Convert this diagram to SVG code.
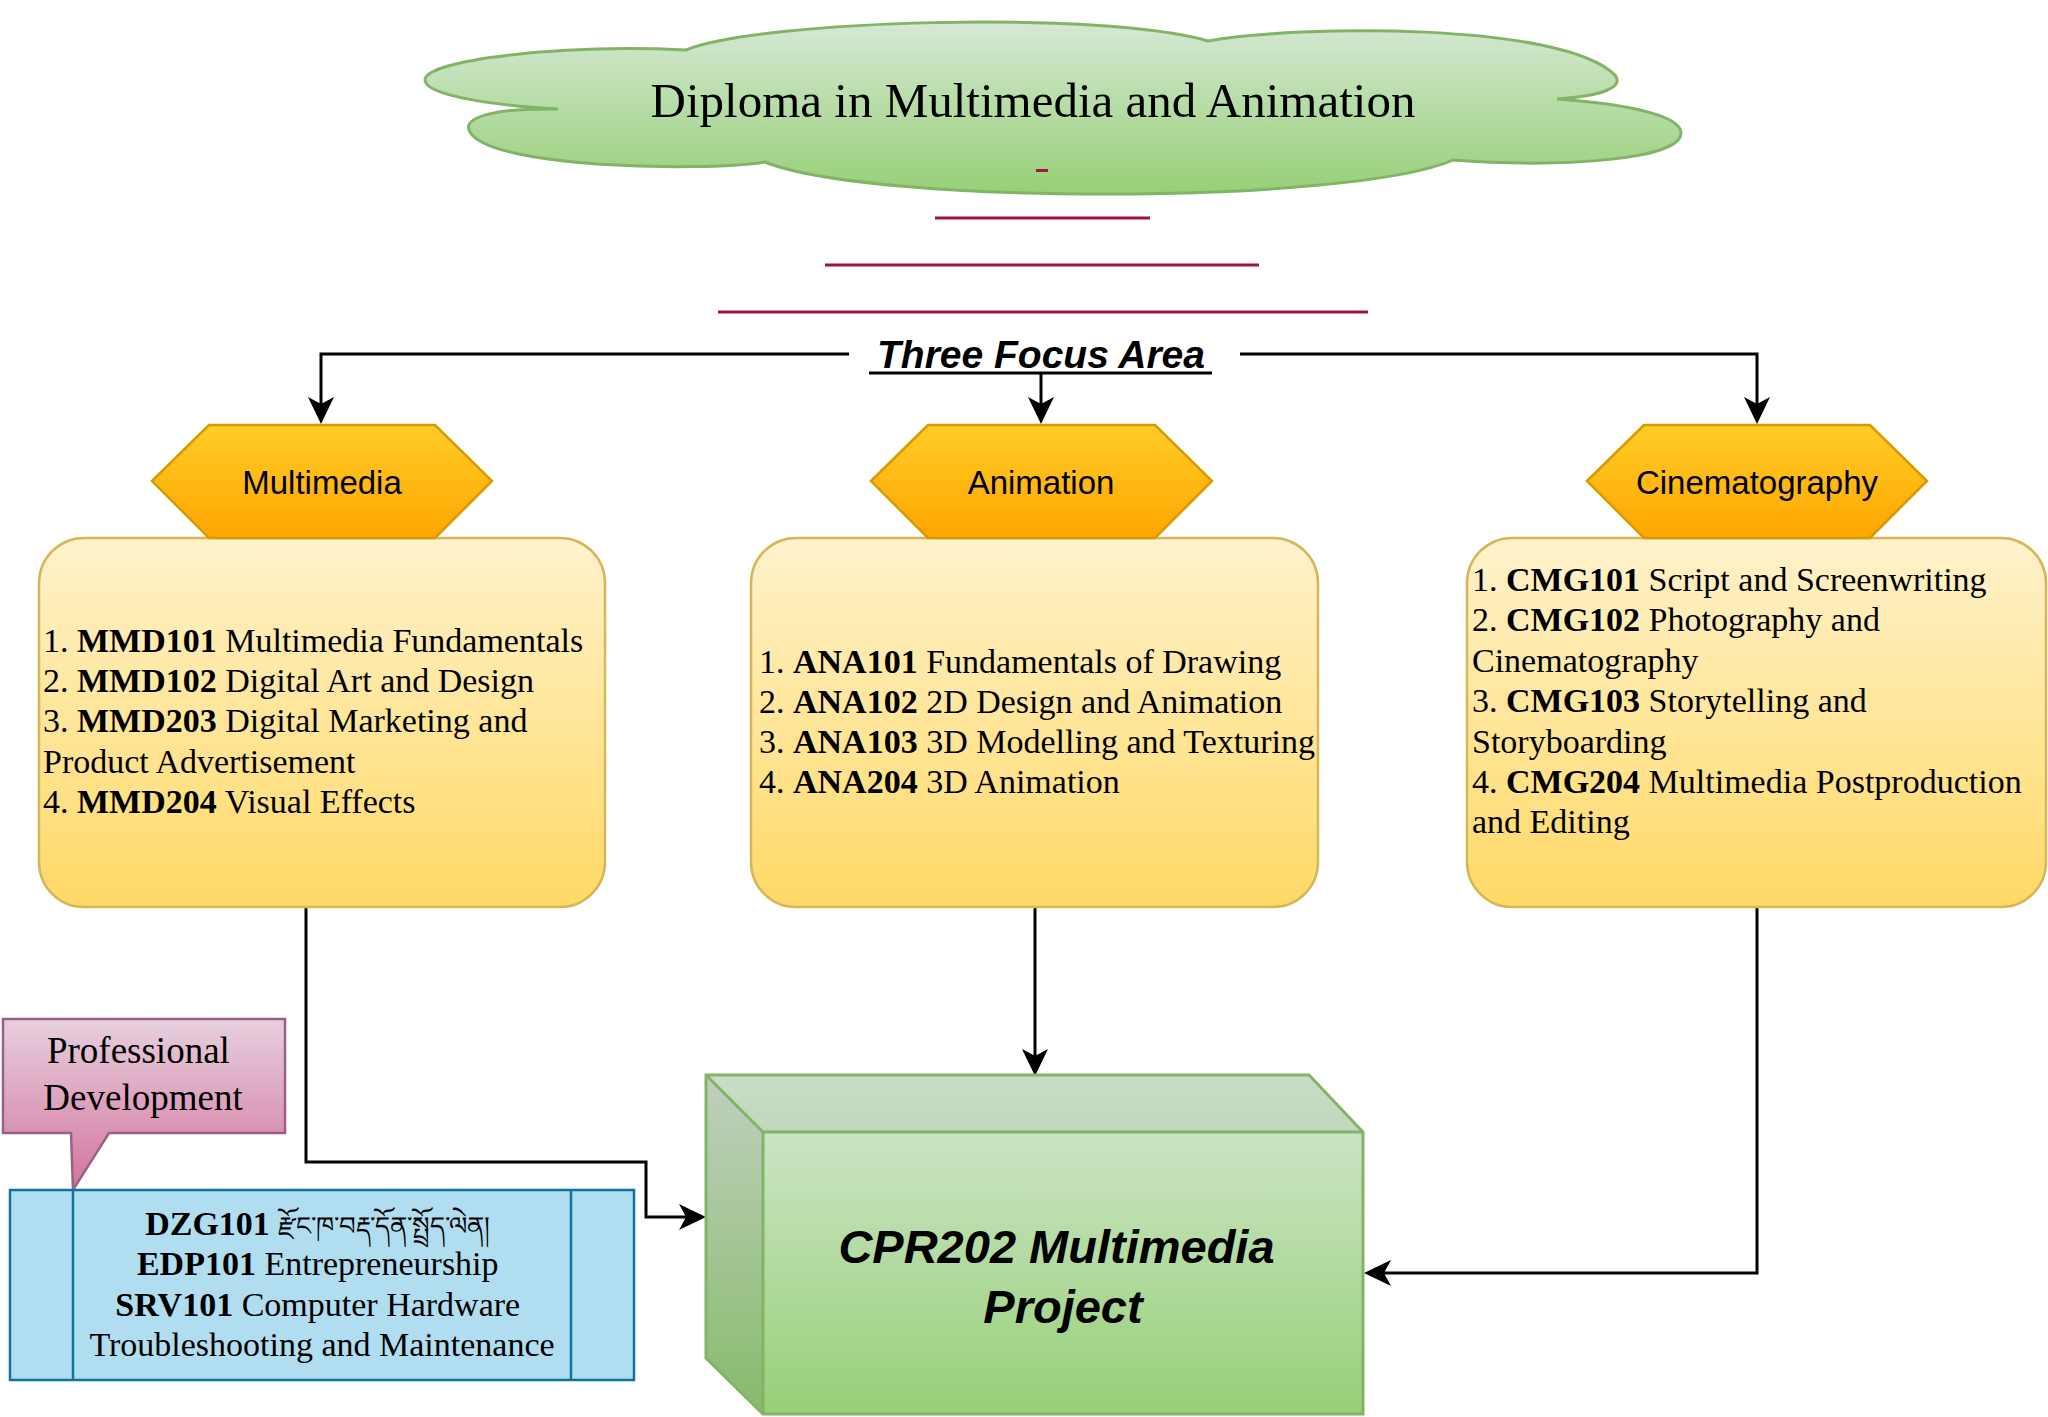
<svg xmlns="http://www.w3.org/2000/svg" width="2048" height="1417" viewBox="0 0 2048 1417">
<style>
.serif{font-family:"Liberation Serif","Times New Roman",serif;fill:#000}
.sans{font-family:"Liberation Sans",Arial,sans-serif;fill:#000}
.body{font-size:34px}
.b{font-weight:bold}
.edge{fill:none;stroke:#000;stroke-width:3}
.head{fill:#000;stroke:none}
.ybox{fill:url(#yellowGrad);stroke:#d6b656;stroke-width:2.5}
.hex{fill:url(#hexGrad);stroke:#d79b00;stroke-width:2.5}
.hexlabel{font-size:33px;text-anchor:middle}
.deco{stroke:#a0114a;stroke-width:3.2}
</style>
<defs>
<linearGradient id="cloudGrad" x1="0" y1="0" x2="0" y2="1"><stop offset="0" stop-color="#d5e8d4"/><stop offset="1" stop-color="#97d077"/></linearGradient>
<linearGradient id="yellowGrad" x1="0" y1="0" x2="0" y2="1"><stop offset="0" stop-color="#fff2cc"/><stop offset="1" stop-color="#ffd966"/></linearGradient>
<linearGradient id="hexGrad" x1="0" y1="0" x2="0" y2="1"><stop offset="0" stop-color="#ffcd28"/><stop offset="1" stop-color="#ffa500"/></linearGradient>
<linearGradient id="pinkGrad" x1="0" y1="0" x2="0" y2="1"><stop offset="0" stop-color="#e6d0de"/><stop offset="1" stop-color="#d5739d"/></linearGradient>
<linearGradient id="cubeGrad" gradientUnits="userSpaceOnUse" x1="0" y1="1075" x2="0" y2="1415"><stop offset="0" stop-color="#d5e8d4"/><stop offset="1" stop-color="#97d077"/></linearGradient>
</defs>
<rect width="2048" height="1417" fill="#fff"/>

<g id="node-title">
<path d="M558,109 C500,106 425,96 425,80 C425,60 560,44 686,50 C760,20 1100,10 1208,41 C1300,25 1560,22 1615,75 C1625,88 1600,96 1557,99 C1640,105 1681,118 1681,133 C1681,160 1560,168 1453,160 C1350,205 870,205 765,162 C700,172 490,168 470,132 C460,116 500,108 558,109 Z" fill="url(#cloudGrad)" stroke="#82b366" stroke-width="3"/>
<text class="serif" x="1033" y="117" font-size="49" text-anchor="middle">Diploma in Multimedia and Animation</text>
<rect x="1036" y="169" width="12" height="3" fill="#b0103f"/>
</g>

<g id="decor-lines">
<line class="deco" x1="935" y1="218" x2="1150" y2="218"/>
<line class="deco" x1="825" y1="265" x2="1259" y2="265"/>
<line class="deco" x1="718" y1="312" x2="1368" y2="312"/>
</g>

<g id="node-focus">
<text class="sans" x="1041" y="368" font-size="39" font-weight="bold" font-style="italic" text-anchor="middle">Three Focus Area</text>
<line x1="869" y1="373" x2="1212" y2="373" stroke="#000" stroke-width="3"/>
</g>

<g id="connectors">
<path class="edge" d="M849,354 H321 V406"/>
<polygon class="head" points="321,424 308,397 321,404 334,397"/>
<path class="edge" d="M1240,354 H1757 V406"/>
<polygon class="head" points="1757,424 1744,397 1757,404 1770,397"/>
<path class="edge" d="M1041,374 V406"/>
<polygon class="head" points="1041,424 1028,397 1041,404 1054,397"/>
<path class="edge" d="M306,907 V1162 H646 V1217 H688"/>
<polygon class="head" points="706,1217 679,1204 686,1217 679,1230"/>
<path class="edge" d="M1035,907 V1058"/>
<polygon class="head" points="1035,1076 1022,1049 1035,1056 1048,1049"/>
<path class="edge" d="M1757,907 V1273 H1382"/>
<polygon class="head" points="1364,1273 1391,1260 1384,1273 1391,1286"/>
</g>

<g id="node-multimedia-list">
<rect class="ybox" x="39" y="538" width="566" height="369" rx="45" ry="45"/>
<text class="serif body">
<tspan x="43" y="652">1. <tspan class="b">MMD101</tspan> Multimedia Fundamentals</tspan>
<tspan x="43" y="692">2. <tspan class="b">MMD102</tspan> Digital Art and Design</tspan>
<tspan x="43" y="732">3. <tspan class="b">MMD203</tspan> Digital Marketing and</tspan>
<tspan x="43" y="773">Product Advertisement</tspan>
<tspan x="43" y="813">4. <tspan class="b">MMD204</tspan> Visual Effects</tspan>
</text>
</g>

<g id="node-animation-list">
<rect class="ybox" x="751" y="538" width="567" height="369" rx="45" ry="45"/>
<text class="serif body">
<tspan x="759" y="673">1. <tspan class="b">ANA101</tspan> Fundamentals of Drawing</tspan>
<tspan x="759" y="713">2. <tspan class="b">ANA102</tspan> 2D Design and Animation</tspan>
<tspan x="759" y="753">3. <tspan class="b">ANA103</tspan> 3D Modelling and Texturing</tspan>
<tspan x="759" y="793">4. <tspan class="b">ANA204</tspan> 3D Animation</tspan>
</text>
</g>

<g id="node-cinematography-list">
<rect class="ybox" x="1467" y="538" width="579" height="369" rx="45" ry="45"/>
<text class="serif body">
<tspan x="1472" y="591">1. <tspan class="b">CMG101</tspan> Script and Screenwriting</tspan>
<tspan x="1472" y="631">2. <tspan class="b">CMG102</tspan> Photography and</tspan>
<tspan x="1472" y="672">Cinematography</tspan>
<tspan x="1472" y="712">3. <tspan class="b">CMG103</tspan> Storytelling and</tspan>
<tspan x="1472" y="753">Storyboarding</tspan>
<tspan x="1472" y="793">4. <tspan class="b">CMG204</tspan> Multimedia Postproduction</tspan>
<tspan x="1472" y="833">and Editing</tspan>
</text>
</g>

<g id="node-multimedia">
<polygon class="hex" points="152,481 209,425 435,425 492,481 435,538 209,538"/>
<text class="sans hexlabel" x="322" y="494">Multimedia</text>
</g>

<g id="node-animation">
<polygon class="hex" points="871,481 928,425 1155,425 1212,481 1155,538 928,538"/>
<text class="sans hexlabel" x="1041" y="494">Animation</text>
</g>

<g id="node-cinematography">
<polygon class="hex" points="1587,481 1644,425 1870,425 1927,481 1870,538 1644,538"/>
<text class="sans hexlabel" x="1757" y="494">Cinematography</text>
</g>

<g id="node-cpr202">
<path d="M706,1075 L1309,1075 L1363,1132 L1363,1414 L763,1414 L706,1358 Z" fill="url(#cubeGrad)"/>
<path d="M706,1075 L1309,1075 L1363,1132 L763,1132 Z" fill="#000" fill-opacity="0.05"/>
<path d="M706,1075 L763,1132 L763,1414 L706,1358 Z" fill="#000" fill-opacity="0.1"/>
<path d="M706,1075 L1309,1075 L1363,1132 L1363,1414 L763,1414 L706,1358 Z M706,1075 L763,1132 L1363,1132 M763,1132 V1414" fill="none" stroke="#82b366" stroke-width="3"/>
<text class="sans" font-size="47" font-weight="bold" font-style="italic" text-anchor="middle">
<tspan x="1063" y="1263">CPR202 Multimedia</tspan>
<tspan x="1063" y="1323">Project</tspan>
</text>
</g>

<g id="node-professional">
<path d="M3,1019 H285 V1133 H109 L73,1190 L71,1133 H3 Z" fill="url(#pinkGrad)" stroke="#996185" stroke-width="2.5"/>
<text class="serif" font-size="37" text-anchor="middle">
<tspan x="143" y="1063">Professional</tspan>
<tspan x="143" y="1110">Development</tspan>
</text>
</g>

<g id="node-common-modules">
<rect x="10" y="1190" width="624" height="190" fill="#b1ddf0" stroke="#10739e" stroke-width="2.5"/>
<line x1="73" y1="1190" x2="73" y2="1380" stroke="#10739e" stroke-width="2.5"/>
<line x1="571" y1="1190" x2="571" y2="1380" stroke="#10739e" stroke-width="2.5"/>
<text class="serif body" text-anchor="middle">
<tspan x="322" y="1235"><tspan class="b">DZG101</tspan> <tspan font-size="26">རྫོང་ཁ་བརྡ་དོན་སྤྲོད་ལེན།</tspan></tspan>
<tspan x="322" y="1275"><tspan class="b">EDP101</tspan> Entrepreneurship</tspan>
<tspan x="322" y="1316"><tspan class="b">SRV101</tspan> Computer Hardware</tspan>
<tspan x="322" y="1356">Troubleshooting and Maintenance</tspan>
</text>
</g>
</svg>
